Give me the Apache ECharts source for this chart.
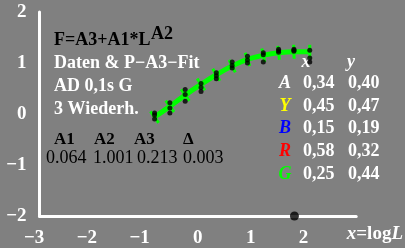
<!DOCTYPE html>
<html lang="en">
<head>
<meta charset="UTF-8">
<title>F=A3+A1*L^A2</title>
<style>
  html, body { margin: 0; padding: 0; background: #808080; }
  #chart { width: 405px; height: 248px; }
</style>
</head>
<body>
<div id="chart"></div>
<script src="https://cdn.jsdelivr.net/npm/echarts@6/dist/echarts.min.js"></script>
<script>
// x = log L of the test steps, fitted curve and the 3 repetitions
const xLog  = [-0.82, -0.53, -0.24, 0.06, 0.35, 0.65, 0.94, 1.24, 1.53, 1.82, 2.12];
const fitY  = [-0.06, 0.15, 0.37, 0.58, 0.77, 0.94, 1.07, 1.15, 1.20, 1.22, 1.22];
const rep1  = [-0.02, 0.22, 0.48, 0.52, 0.81, 1.02, 1.13, 1.20, 1.27, 1.27, 1.25];
const rep2  = [-0.10, 0.02, 0.38, 0.44, 0.69, 0.90, 1.00, 1.16, 1.21, 1.23, 1.10];
const rep3  = [0.02, 0.12, 0.25, 0.60, 0.75, 0.95, 1.06, 1.02, 1.24, 1.25, 1.02];
const marker = [[1.83, -2]];

const xTicks = [-3, -2, -1, 0, 1, 2];
const yTicks = [-2, -1, 0, 1, 2];
const xMin = -3, xMax = 3, yMin = -2, yMax = 2;

// fit parameters
const parNames  = ['A1', 'A2', 'A3', 'Δ'];
const parValues = ['0.064', '1.001', '0.213', '0.003'];

// chromaticity table
const rowNames  = ['A', 'Y', 'B', 'R', 'G'];
const rowColors = ['#ffffff', '#ffff00', '#0000ff', '#ff0000', '#00ff00'];
const rowX = ['0,34', '0,45', '0,15', '0,58', '0,25'];
const rowY = ['0,40', '0,47', '0,19', '0,32', '0,44'];

const infoLines = ['Daten & P−A3−Fit', 'AD 0,1s G', '3 Wiederh.'];

const FONT = 'Liberation Serif, Times New Roman, serif';
const pxX = 52.8, pxY = 52;

let chart = echarts.init(document.getElementById('chart'));

// rotation of the little green marks: perpendicular to the curve
let rot = xLog.map((x, i) => {
    let a = Math.max(i - 1, 0), b = Math.min(i + 1, xLog.length - 1);
    let ang = Math.atan2((fitY[b] - fitY[a]) * pxY, (xLog[b] - xLog[a]) * pxX);
    return ang * 180 / Math.PI;
});

let repData = [];
[rep1, rep2, rep3].forEach(r => r.forEach((v, i) => repData.push([xLog[i], v])));

// axis lines + crossing ticks (ticks go a few px to both sides of the axis)
let axisMarks = [
    [{ coord: [xMin, yMin] }, { coord: [xMax, yMin] }],
    [{ coord: [xMin, yMin] }, { coord: [xMin, yMax] }]
];
xTicks.forEach(t => axisMarks.push([{ coord: [t, yMin - 5 / pxY] }, { coord: [t, yMin + 4 / pxY] }]));
yTicks.forEach(t => axisMarks.push([{ coord: [xMin - 5 / pxX, t] }, { coord: [xMin + 5 / pxX, t] }]));

function xLabel(v) {
    if (xTicks.indexOf(v) < 0) return '';
    if (v < 0) return '{m|−}{d|' + (-v) + '}{h|−}';
    return '{d|' + v + '}';
}
function yLabel(v) {
    return String(v).replace('-', '−');
}

let labelRich = {
    m: { color: '#fff', fontWeight: 'bold', fontSize: 19, fontFamily: FONT },
    d: { color: '#fff', fontWeight: 'bold', fontSize: 19, fontFamily: FONT },
    h: { color: 'rgba(0,0,0,0)', fontWeight: 'bold', fontSize: 19, fontFamily: FONT }
};

let graphics = [];
graphics.push({ type: 'text', x: 54, y: 40, style: { text: 'F=A3+A1*L', font: 'bold 18px ' + FONT, fill: '#000', textVerticalAlign: 'middle' } });
graphics.push({ type: 'text', x: 151, y: 34, style: { text: 'A2', font: 'bold 18px ' + FONT, fill: '#000', textVerticalAlign: 'middle' } });
infoLines.forEach((t, i) => {
    graphics.push({ type: 'text', x: 54, y: 63 + i * 23, style: { text: t, font: 'bold 18px ' + FONT, fill: '#fff', textVerticalAlign: 'middle' } });
});
const parX = [54, 94, 134, 183];
const valX = [46, 93, 137, 183];
parNames.forEach((t, i) => {
    graphics.push({ type: 'text', x: parX[i], y: 140, style: { text: t, font: 'bold 17px ' + FONT, fill: '#000', textVerticalAlign: 'middle' } });
    graphics.push({ type: 'text', x: valX[i], y: 158, style: { text: parValues[i], font: '18px ' + FONT, fill: '#000', textVerticalAlign: 'middle' } });
});
graphics.push({ type: 'text', x: 306, y: 62, style: { text: 'x', font: 'italic bold 18px ' + FONT, fill: '#fff', textAlign: 'center', textVerticalAlign: 'middle' } });
graphics.push({ type: 'text', x: 351, y: 62, style: { text: 'y', font: 'italic bold 18px ' + FONT, fill: '#fff', textAlign: 'center', textVerticalAlign: 'middle' } });
rowNames.forEach((n, i) => {
    let y = 83.5 + i * 22.6;
    graphics.push({ type: 'text', x: 285, y: y, style: { text: n, font: 'italic bold 18px ' + FONT, fill: rowColors[i], textAlign: 'center', textVerticalAlign: 'middle' } });
    graphics.push({ type: 'text', x: 303, y: y, style: { text: rowX[i], font: 'bold 18px ' + FONT, fill: '#fff', textVerticalAlign: 'middle' } });
    graphics.push({ type: 'text', x: 348, y: y, style: { text: rowY[i], font: 'bold 18px ' + FONT, fill: '#fff', textVerticalAlign: 'middle' } });
});
graphics.push({
    type: 'text', x: 403, y: 234,
    style: {
        text: '{i|x}{n|=log}{i|L}',
        textAlign: 'right', textVerticalAlign: 'middle',
        rich: {
            i: { fontStyle: 'italic', fontWeight: 'bold', fontSize: 19, fontFamily: FONT, fill: '#fff' },
            n: { fontWeight: 'bold', fontSize: 19, fontFamily: FONT, fill: '#fff' }
        }
    }
});

let option = {
    animation: false,
    grid: { left: 39.5, top: 12, width: 316.7, height: 208 },
    xAxis: {
        type: 'value', min: xMin, max: xMax, interval: 1,
        splitLine: { show: false },
        axisLine: { show: true, onZero: false, lineStyle: { color: '#ffffff', width: 3 } },
        axisTick: { show: false },
        axisLabel: { margin: 13, formatter: xLabel, rich: labelRich }
    },
    yAxis: {
        type: 'value', min: yMin, max: yMax, interval: 1,
        splitLine: { show: false },
        axisLine: { show: true, onZero: false, lineStyle: { color: '#ffffff', width: 3 } },
        axisTick: { show: false },
        axisLabel: { margin: 13, formatter: yLabel, color: '#fff', fontWeight: 'bold', fontSize: 19, fontFamily: FONT }
    },
    series: [
        {
            type: 'line',
            data: xLog.map((x, i) => ({ value: [x, fitY[i]], symbolRotate: rot[i] })),
            smooth: true,
            lineStyle: { color: '#00ff00', width: 5 },
            showSymbol: true,
            symbol: 'rect',
            symbolSize: [3, 14],
            itemStyle: { color: '#00ff00' },
            z: 3
        },
        {
            type: 'scatter',
            data: repData,
            symbolSize: 5,
            itemStyle: { color: '#000' },
            z: 4
        },
        {
            type: 'scatter',
            data: marker,
            symbolSize: 9,
            itemStyle: { color: '#000' },
            clip: false,
            z: 12,
            markLine: {
                silent: true,
                symbol: ['none', 'none'],
                label: { show: false },
                lineStyle: { color: '#ffffff', width: 3, type: 'solid' },
                emphasis: { disabled: true },
                data: axisMarks
            }
        }
    ],
    graphic: graphics
};

chart.setOption(option);
</script>
</body>
</html>
